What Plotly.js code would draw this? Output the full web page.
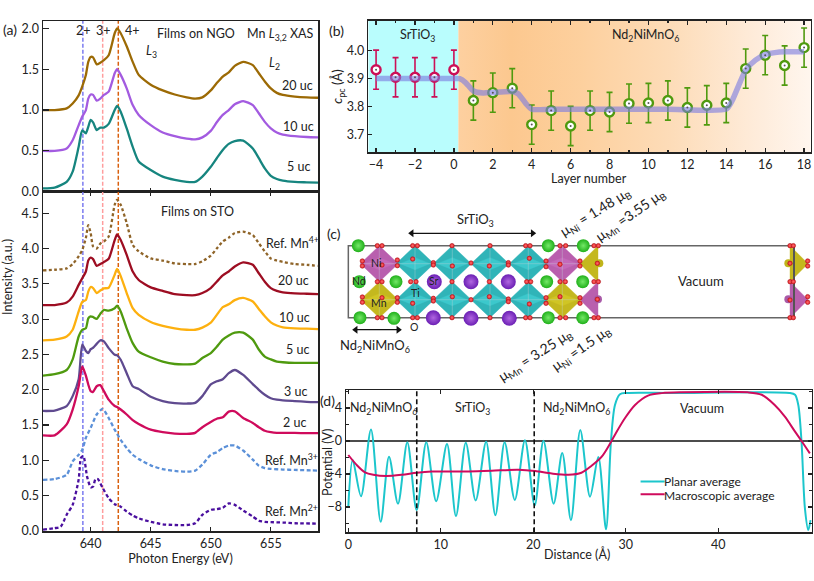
<!DOCTYPE html>
<html><head><meta charset="utf-8">
<script src="https://cdn.plot.ly/plotly-3.0.1.min.js"></script>
<style>html,body{margin:0;padding:0;background:#fff}</style></head>
<body><div id="c" style="width:814px;height:581px"></div>
<script>
// ---------- panel (a) ----------
const energy = [636.03,637,638,638.5,639,639.3,639.6,639.8,640,640.2,640.5,640.8,641.1,641.5,642,642.2,642.5,643,643.5,644,645,646,647,648,648.7,649.3,650,650.5,651,651.5,652,652.7,653.5,654,654.5,655,655.5,656,657,658,658.93];
const ngo20 = [1,1,1.02,1.08,1.18,1.29,1.43,1.59,1.65,1.645,1.56,1.58,1.61,1.67,1.94,2,1.94,1.78,1.59,1.43,1.31,1.24,1.19,1.155,1.14,1.155,1.24,1.33,1.41,1.46,1.54,1.59,1.55,1.45,1.35,1.265,1.21,1.185,1.165,1.155,1.15];
const ngo10 = [.5,.5,.53,.63,.815,.92,1,1.14,1.19,1.185,1.115,1.14,1.185,1.225,1.45,1.5,1.43,1.265,1.06,.94,.815,.725,.68,.65,.64,.665,.745,.85,.94,1,1.07,1.11,1.06,.96,.855,.775,.725,.7,.68,.67,.665];
const ngo5 = [.04,.05,.12,.245,.55,.75,.715,.795,.88,.85,.755,.785,.785,.83,1,1.05,.98,.775,.55,.37,.265,.185,.145,.12,.12,.185,.305,.41,.51,.585,.62,.625,.53,.41,.285,.195,.155,.135,.12,.115,.11];
const refMn4 = [3.69,3.7,3.72,3.78,3.89,3.98,4.15,4.33,4.22,4.03,4,4.07,4.1,4.17,4.62,4.69,4.62,4.36,4.05,3.96,3.86,3.83,3.79,3.78,3.78,3.82,3.9,4,4.1,4.155,4.22,4.24,4.19,4.075,3.96,3.86,3.83,3.81,3.78,3.77,3.755];
const sto20 = [3.2,3.2,3.235,3.32,3.485,3.58,3.675,3.83,3.87,3.85,3.755,3.78,3.81,3.855,4.12,4.2,4.12,3.91,3.675,3.555,3.45,3.4,3.355,3.34,3.34,3.37,3.44,3.53,3.62,3.675,3.745,3.805,3.77,3.65,3.53,3.44,3.4,3.38,3.365,3.36,3.355];
const sto10 = [2.7,2.71,2.755,2.85,3.11,3.245,3.27,3.39,3.455,3.44,3.37,3.405,3.435,3.445,3.63,3.71,3.61,3.37,3.155,3.06,2.96,2.905,2.87,2.85,2.85,2.88,2.95,3.06,3.17,3.21,3.27,3.3,3.25,3.145,3.04,2.955,2.91,2.885,2.87,2.865,2.86];
const sto5 = [2.2,2.22,2.28,2.43,2.755,2.85,2.87,3.01,3.04,3.03,3.005,3.075,3.13,3.12,3.155,3.19,3.11,2.87,2.66,2.54,2.46,2.4,2.365,2.36,2.37,2.45,2.52,2.61,2.71,2.77,2.81,2.81,2.71,2.57,2.47,2.43,2.4,2.39,2.38,2.38,2.38];
const sto3 = [1.7,1.705,1.77,1.91,2.15,2.64,2.55,2.52,2.575,2.595,2.65,2.7,2.685,2.59,2.495,2.49,2.425,2.235,2.05,2.01,1.9,1.84,1.81,1.805,1.815,1.91,2.075,2.12,2.15,2.235,2.28,2.21,2.08,2,1.93,1.88,1.86,1.85,1.84,1.83,1.825];
const sto2 = [1.355,1.355,1.51,1.72,2.05,2.33,2.2,2.075,1.98,1.97,2.05,2.065,1.98,1.86,1.77,1.755,1.72,1.65,1.57,1.515,1.435,1.4,1.38,1.375,1.39,1.47,1.545,1.59,1.61,1.69,1.695,1.6,1.53,1.47,1.42,1.4,1.39,1.39,1.39,1.385,1.385];
const energyMn3 = [636.03,637,638,638.5,639,639.3,639.6,640,640.5,641,641.5,642,642.5,643,643.5,644,645,646,647,648,648.7,649.3,650,650.5,651,651.5,652,652.7,653.5,654,654.5,655,656,657,658,658.93];
const refMn3 = [.725,.735,.795,.985,1.08,1.15,1.32,1.46,1.65,1.73,1.6,1.435,1.29,1.175,1.08,1.02,.93,.875,.85,.84,.855,.94,1.08,1.115,1.175,1.21,1.21,1.14,1.01,.925,.89,.88,.87,.865,.86,.855];
const energyMn2 = [636.03,637,637.5,638,638.5,639,639.2,639.4,639.7,640,640.2,640.4,640.6,641,641.5,642,642.5,643,643.5,644,645,646,647,648,648.7,649.3,650,650.5,651,651.5,652,652.7,653.5,654,654.5,655,656,657,658.93];
const refMn2 = [.02,.04,.06,.23,.37,.73,1.04,1.06,.77,.62,.63,.735,.735,.61,.465,.38,.345,.275,.22,.18,.13,.095,.085,.085,.11,.23,.3,.31,.33,.39,.37,.29,.205,.145,.13,.125,.12,.11,.105];
const oxidationEnergy = [639.35,641.0,642.3];
// ---------- panel (b) ----------
const layerSTO = [-4,-3,-2,-1,0];
const cSTO = [3.931,3.904,3.904,3.904,3.931];
const layerNNMO = [1,2,3,4,5,6,7,8,9,10,11,12,13,14,15,16,17,18];
const cNNMO = [3.821,3.849,3.865,3.735,3.785,3.73,3.785,3.78,3.81,3.812,3.821,3.796,3.804,3.812,3.935,3.983,3.946,4.01];
const cError = 0.07;
const fitLayer = [-4,0,0.3,0.6,1,1.5,2,3,3.3,3.7,4,5,8,11,14,14.3,14.7,15,15.5,16,16.5,17,18];
const fitC = [3.9,3.9,3.899,3.885,3.855,3.848,3.85,3.853,3.845,3.81,3.79,3.79,3.79,3.79,3.79,3.82,3.885,3.93,3.965,3.985,3.992,3.995,3.995];
const cTicks = [3.7,3.8,3.9,4.0];
// ---------- panel (d) ----------
const distPlanar = [0,.47,1.37,2.45,3.5,4.4,5.37,6.38,7.39,8.43,9.5,10.67,11.64,12.7,13.77,14.9,15.9,16.9,18,19.1,20.15,21.1,22.2,23.13,24.07,25.08,26.13,27.03,27.86,28.4,28.83,29.37,30.1,35,47.7,48.3,48.65,49,49.37,49.73,49.98];
const planar = [-8,-2.3,-6.7,1.4,-9.8,-1.9,-7.6,-.16,-8.4,-.16,-7.3,-.36,-9.1,-.2,-7.2,-.08,-9,-.16,-7.15,.08,-7.8,.04,-7.6,-1.45,-9.6,1.33,-6.75,-1.94,-10.7,0,4.36,5.66,5.82,5.82,5.82,5.6,4.36,-.1,-8.2,-10.8,-9.6];
const distMacro = [0,.9,1.8,2.7,4.1,5.8,7.4,9,12.6,15.5,18.4,20.2,22,23.8,25.2,26.3,27.4,28.1,28.8,29.9,31,32.4,33.9,36,43.2,44.7,46.1,47.2,48.3,49,49.9];
const macro = [-1.7,-2.9,-3.8,-4.1,-4.25,-4.1,-3.85,-3.7,-3.7,-3.6,-3.5,-3.65,-3.95,-4.1,-3.85,-3,-1.9,-.7,.7,2.75,4.36,5.5,5.8,5.9,5.9,5.6,4.36,2.95,1.13,0,-1.5];
const interfaces = [7.4,20.1];
const distTicks = [0,10,20,30,40];
// ---------- panel (c) structure, in the hidden axis units ----------
const octaX = [379.3,379.3,415,415,452.3,452.3,490,490,528.3,528.3,562.3,562.3];
const octaY = [263.7,299.7,263.7,299.7,263.7,299.7,263.7,299.7,263.7,299.7,263.7,299.7];
const octaKind = ['Ni','Mn','Ti','Ti','Ti','Ti','Ti','Ti','Ti','Ti','Ni','Mn'];
const halfOctaX = [598,598,790,790];
const halfOctaY = [263.7,299.7,263.7,299.7];
const halfOctaKind = ['Mn','Ni','Mn','Ni'];
const halfOctaSide = [-1,-1,1,1];
const ndX = [358.3,359.3,396,360,394,548.3,583.3,546.7,582.7,548.3,582.7];
const ndY = [245.7,281.7,281.7,317.7,318.3,245.7,245.7,281.7,281.7,317.7,317.7];
const srX = [434.3,471,508.3,433.3,471,509.3];
const srY = [281.7,281.7,281.7,317.7,318.3,318.3];
const oxyZX = [172,186,278,292,396,510,617,630,720,737,822,835,1410,1420, 172,186,272,288,396,508,620,632,720,736,822,835,1410,1420, 172,186,278,292,396,510,617,630,720,737,822,835,1410,1420, 127,127,232,232,186,278,340,340,397,453,508,565,565,628,678,678,720,780,780,832,1410,1463,1463, 127,127,232,232,186,278,340,340,397,453,508,565,565,628,678,678,720,780,780,832,1410,1463,1463];
const oxyZY = [182,182,182,182,182,182,182,182,182,182,182,182,182,182, 290,290,290,290,290,290,290,290,290,290,290,290,290,290, 398,398,398,398,398,398,398,398,398,398,398,398,398,398, 228,243,225,242,240,222,233,240,243,234,243,233,240,220,228,245,238,228,243,235,235,228,243, 336,352,338,352,338,355,340,348,335,344,335,342,350,357,338,355,335,338,355,343,345,335,352];
const spanSrTiO = [411.7,532.7];
const spanNNMO = [355.7,398.3];
const spanY = [233.3,329.7];

const W=814,H=581;
const dx=(a,b)=>[a/W,b/W], dy=(t,b)=>[1-b/H,1-t/H];
const FONT='Lato, sans-serif', INK='#222', FS=12.5;
const traces=[];
function curve(x,y,c,xa,ya,dash){traces.push({type:'scatter',mode:'lines',x,y,xaxis:xa,yaxis:ya,hoverinfo:'skip',
  line:{color:c,width:2.3,shape:'spline',smoothing:0.6,dash:dash||'solid'},showlegend:false});}
const oxColors=['#7b7bf0','#ff9d9d','#d9600f'];
oxidationEnergy.forEach((e,i)=>{
  traces.push({type:'scatter',mode:'lines',x:[e,e],y:[0,2.09],xaxis:'x',yaxis:'y',line:{color:oxColors[i],width:1.5,dash:'4px,2px'},showlegend:false,hoverinfo:'skip'});
  traces.push({type:'scatter',mode:'lines',x:[e,e],y:[0,4.805],xaxis:'x2',yaxis:'y2',line:{color:oxColors[i],width:1.5,dash:'4px,2px'},showlegend:false,hoverinfo:'skip'});
});
curve(energy,ngo20,'#9c6a05','x','y');
curve(energy,ngo10,'#a35be0','x','y');
curve(energy,ngo5,'#16857f','x','y');
curve(energy,refMn4,'#8f6428','x2','y2','3px,2.5px');
curve(energy,sto20,'#9d0d22','x2','y2');
curve(energy,sto10,'#fdb00f','x2','y2');
curve(energy,sto5,'#4f9a0f','x2','y2');
curve(energy,sto3,'#5f4a8f','x2','y2');
curve(energy,sto2,'#cf0b5c','x2','y2');
curve(energyMn3,refMn3,'#5b90d8','x2','y2','4px,2.5px');
curve(energyMn2,refMn2,'#4a0f9e','x2','y2','3.5px,2.5px');

traces.push({type:'scatter',mode:'lines',x:[-4.4,.23,.23,-4.4,-4.4],y:[3.636,3.636,4.106,4.106,3.636],xaxis:'x3',yaxis:'y3',fill:'toself',fillcolor:'#b9fdfd',line:{width:0},showlegend:false,hoverinfo:'skip'});
traces.push({type:'scatter',mode:'lines',x:[.23,18.34,18.34,.23,.23],y:[3.636,3.636,4.106,4.106,3.636],xaxis:'x3',yaxis:'y3',fill:'toself',line:{width:0},showlegend:false,hoverinfo:'skip',
  fillgradient:{type:'horizontal',colorscale:[[0,'#fdd0a0'],[.15,'#fcc88f'],[.35,'#fdd09e'],[.6,'#fddcb8'],[.85,'#feecdb'],[1,'#fff6ee']]}});
function pts(x,y,c){
  traces.push({type:'scatter',mode:'markers',x,y,xaxis:'x3',yaxis:'y3',showlegend:false,hoverinfo:'skip',
    marker:{symbol:'circle',size:9,color:'#fff',line:{color:c,width:2.4}},
    error_y:{type:'constant',value:cError,color:c,thickness:1.6,width:3}});
}
pts(layerSTO,cSTO,'#cc0f57');
pts(layerNNMO,cNNMO,'#4f9a0f');
traces.push({type:'scatter',mode:'lines',x:fitLayer,y:fitC,xaxis:'x3',yaxis:'y3',showlegend:false,hoverinfo:'skip',
  line:{color:'rgba(125,125,225,.62)',width:5.5,shape:'spline',smoothing:.6}});
traces.push({type:'scatter',mode:'markers',x:layerSTO.concat(layerNNMO),y:cSTO.concat(cNNMO),xaxis:'x3',yaxis:'y3',showlegend:false,hoverinfo:'skip',marker:{size:2,color:'#555'}});

const z2x=z=>320+z/3,z2y=z=>185+z/3;
traces.push({type:'scatter',mode:'lines',x:[z2x(1425),z2x(85),z2x(85),z2x(1425)],y:[245.7,245.7,317.7,317.7],xaxis:'x4',yaxis:'y4',line:{color:'#666',width:1.5},showlegend:false,hoverinfo:'skip'});
const pal={Ni:['#b95fae','#c46abb'],Mn:['#c4b81e','#d0c524'],Ti:['#30b4b8','#3cc8cc']};
function polys(kind,tone,build){
  const xs=[],ys=[];
  build((px,py)=>{xs.push(...px,null);ys.push(...py,null);});
  traces.push({type:'scatter',mode:'lines',x:xs,y:ys,xaxis:'x4',yaxis:'y4',fill:'toself',fillcolor:pal[kind][tone],line:{width:.4,color:pal[kind][tone]},showlegend:false,hoverinfo:'skip'});
}
['Ni','Mn','Ti'].forEach(k=>{
  polys(k,0,add=>{
    octaX.forEach((cx,i)=>{if(octaKind[i]!==k)return;const hw=19,hh=18,cy=octaY[i];add([cx-hw,cx,cx+hw,cx,cx-hw],[cy,cy-hh,cy,cy+hh,cy]);});
    halfOctaX.forEach((cx,i)=>{if(halfOctaKind[i]!==k)return;const hw=18*halfOctaSide[i],hh=18,cy=halfOctaY[i];add([cx,cx+hw,cx,cx],[cy-hh,cy,cy+hh,cy-hh]);});
  });
  polys(k,1,add=>{
    octaX.forEach((cx,i)=>{if(octaKind[i]!==k)return;const hw=15,hh=6,cy=octaY[i];add([cx-hw,cx,cx+hw,cx,cx-hw],[cy,cy-hh,cy,cy+hh,cy]);});
  });
});
(function(){const xs=[],ys=[];octaX.forEach((cx,i)=>{const cy=octaY[i];xs.push(cx-18,cx+18,null,cx,cx,null);ys.push(cy,cy,null,cy-18,cy+18,null);});
traces.push({type:'scatter',mode:'lines',x:xs,y:ys,xaxis:'x4',yaxis:'y4',line:{color:'rgba(200,210,215,.6)',width:.6},showlegend:false,hoverinfo:'skip'});})();
traces.push({type:'scatter',mode:'lines',x:[z2x(1422),z2x(1422)],y:[245.7,317.7],xaxis:'x4',yaxis:'y4',line:{color:'#555',width:2},showlegend:false,hoverinfo:'skip'});
traces.push({type:'scatter',mode:'markers',x:[z2x(838),z2x(1405)],y:[263.3,263.3],xaxis:'x4',yaxis:'y4',marker:{size:8,color:'#c0b41a'},showlegend:false,hoverinfo:'skip'});
traces.push({type:'scatter',mode:'markers',x:[z2x(834),z2x(1405)],y:[299.3,299.3],xaxis:'x4',yaxis:'y4',marker:{size:8,color:'#a95aa8'},showlegend:false,hoverinfo:'skip'});
function atoms(x,y,size,c,g,lc){traces.push({type:'scatter',mode:'markers',x,y,xaxis:'x4',yaxis:'y4',showlegend:false,hoverinfo:'skip',
  marker:{size,color:c,line:{width:lc?.6:0,color:lc||c},gradient:g?{type:'radial',color:g}:undefined}});}
atoms(ndX,ndY,13,'#20b01a','#74e868');
atoms(srX,srY,15,'#6b1fb4','#b066e0');
atoms(oxyZX.map(z2x),oxyZY.map(z2y),4.5,'#ea1c24','#f8706f','#a8171c');
function span(xr,y){
  traces.push({type:'scatter',mode:'lines+markers',x:xr,y:[y,y],xaxis:'x4',yaxis:'y4',showlegend:false,hoverinfo:'skip',
    line:{color:'#111',width:1.2},marker:{symbol:['triangle-left','triangle-right'],size:7,color:'#111'}});
}
span(spanSrTiO,spanY[0]);span(spanNNMO,spanY[1]);

const dline=(x,y,c,w,sp)=>traces.push({type:'scatter',mode:'lines',x,y,xaxis:'x5',yaxis:'y5',showlegend:false,hoverinfo:'skip',line:{color:c,width:w,shape:sp?'spline':'linear',smoothing:.85}});
dline([-0.25,50.1],[0,0],'#111',1.4);
dline(distPlanar,planar,'#1cc6cc',2,true);
dline(distMacro,macro,'#cf0b5c',2,true);
interfaces.forEach(v=>traces.push({type:'scatter',mode:'lines',x:[v,v],y:[-11.07,6.18],xaxis:'x5',yaxis:'y5',showlegend:false,hoverinfo:'skip',line:{color:'#111',width:1.6,dash:'5px,3px'}}));
const legX=[31.6,34.2];
dline(legX,[-4.9,-4.9],'#1cc6cc',2);
dline(legX,[-6.45,-6.45],'#cf0b5c',2);

const base=(o)=>Object.assign({showgrid:false,zeroline:false,showline:true,linecolor:INK,linewidth:1.5,ticks:'inside',ticklen:4,tickwidth:1.2,tickcolor:INK,tickfont:{family:FONT,size:FS,color:INK}},o);
const layout={width:W,height:H,margin:{l:0,r:0,t:0,b:0},paper_bgcolor:'#fff',plot_bgcolor:'rgba(0,0,0,0)',showlegend:false,font:{family:FONT,size:FS,color:INK},
 xaxis:base({domain:dx(43,318),range:[636.03,658.93],anchor:'y',dtick:5,tick0:640,showticklabels:false,mirror:true}),
 yaxis:base({domain:dy(21,191.7),range:[0,2.09],anchor:'x',dtick:.5,tickformat:'.1f',mirror:true,ticklen:6}),
 xaxis2:base({domain:dx(43,318),range:[636.03,658.93],anchor:'y2',dtick:5,tick0:640,mirror:'allticks',title:{text:'Photon Energy (eV)',font:{size:FS},standoff:4}}),
 yaxis2:base({domain:dy(191.7,531),range:[0,4.805],anchor:'x2',dtick:.5,tickformat:'.1f',mirror:true,ticklen:6}),
 xaxis3:base({domain:dx(368.3,810.7),range:[-4.4,18.34],anchor:'y3',dtick:2,tick0:0,mirror:'allticks',minor:{dtick:1,ticks:'inside',ticklen:2.5,tickcolor:INK}}),
 yaxis3:base({domain:dy(20.7,152.3),range:[3.636,4.106],anchor:'x3',tickmode:'array',tickvals:cTicks,tickformat:'.1f',mirror:true,title:{text:'<i>c</i><sub>pc</sub> (Å)',font:{size:13},standoff:1}}),
 xaxis4:{domain:dx(320,814),range:[320,814],anchor:'y4',visible:false},
 yaxis4:{domain:dy(185,395),range:[395,185],anchor:'x4',visible:false},
 xaxis5:base({domain:dx(346,811.7),range:[-0.25,50.1],anchor:'y5',tickmode:'array',tickvals:distTicks,mirror:'allticks'}),
 yaxis5:base({domain:dy(390,532.3),range:[-11.07,6.18],anchor:'x5',dtick:4,tick0:0,mirror:'allticks',minor:{dtick:2,ticks:'inside',ticklen:2.5,tickcolor:INK}}),
 annotations:[],shapes:[]
};
function T(text,px,py,o){layout.annotations.push(Object.assign({text,x:px/W,y:1-py/H,xref:'paper',yref:'paper',xanchor:'center',yanchor:'middle',showarrow:false,borderpad:0,font:{family:FONT,size:FS,color:INK}},o||{}));}
const F=s=>({font:{family:FONT,size:s,color:INK}});
T('(a)',10,29,F(14));T('(b)',336,31,F(14));T('(c)',334,233,F(14));T('(d)',327,400,F(14));
T('2+',83,31);T('3+',103,31);T('4+',132,31);
T('Films on NGO',196,33);T('Mn <i>L</i><sub>3,2</sub> XAS',280,34);T('<i>L</i><sub>3</sub>',151,52);T('<i>L</i><sub>2</sub>',274,63);
T('20 uc',297,85);T('10 uc',298,126);T('5 uc',298,167);
T('Films on STO',197,211);T('Ref. Mn<sup>4+</sup>',292,242);T('20 uc',293,280);T('10 uc',294,317);T('5 uc',297,349);T('3 uc',295,391);T('2 uc',294,422);T('Ref. Mn<sup>3+</sup>',291,459);T('Ref. Mn<sup>2+</sup>',291,511);
T('Intensity (a.u.)',7,277,{textangle:-90});
T('SrTiO<sub>3</sub>',417,36);T('Nd<sub>2</sub>NiMnO<sub>6</sub>',645,36);T('Layer number',589,178);
T('SrTiO<sub>3</sub>',475,220,F(13));T('Nd<sub>2</sub>NiMnO<sub>6</sub>',375,346,F(13));T('Vacuum',701,281,F(13));
T('Ni',376,263,F(10.5));T('Nd',359,281,F(10.5));T('Mn',379,303,F(10.5));T('Ti',415,293,F(10.5));T('Sr',434,281,F(10.5));T('O',414,327,F(10.5));
T('μ<sub>Ni</sub> = 1.48 μ<sub>B</sub>',595,213,Object.assign({textangle:-32},F(14)));
T('μ<sub>Mn</sub> =3.55 μ<sub>B</sub>',630,215,Object.assign({textangle:-35},F(14)));
T('μ<sub>Mn</sub> = 3.25 μ<sub>B</sub>',535,355,Object.assign({textangle:-33},F(14)));
T('μ<sub>Ni</sub> =1.5 μ<sub>B</sub>',581,348,Object.assign({textangle:-35},F(14)));
T('Nd<sub>2</sub>NiMnO<sub>6</sub>',383,408);T('SrTiO<sub>3</sub>',472,409);T('Nd<sub>2</sub>NiMnO<sub>6</sub>',576,409);T('Vacuum',702,409);
T('Potential (V)',327,463,{textangle:-90});T('Distance (Å)',577,554);
T('Planar average',663,481,{xanchor:'left',font:{family:FONT,size:12,color:INK}});T('Macroscopic average',663,495,{xanchor:'left',font:{family:FONT,size:12,color:INK}});
Plotly.newPlot('c',traces,layout,{displayModeBar:false,staticPlot:true});
</script></body></html>
